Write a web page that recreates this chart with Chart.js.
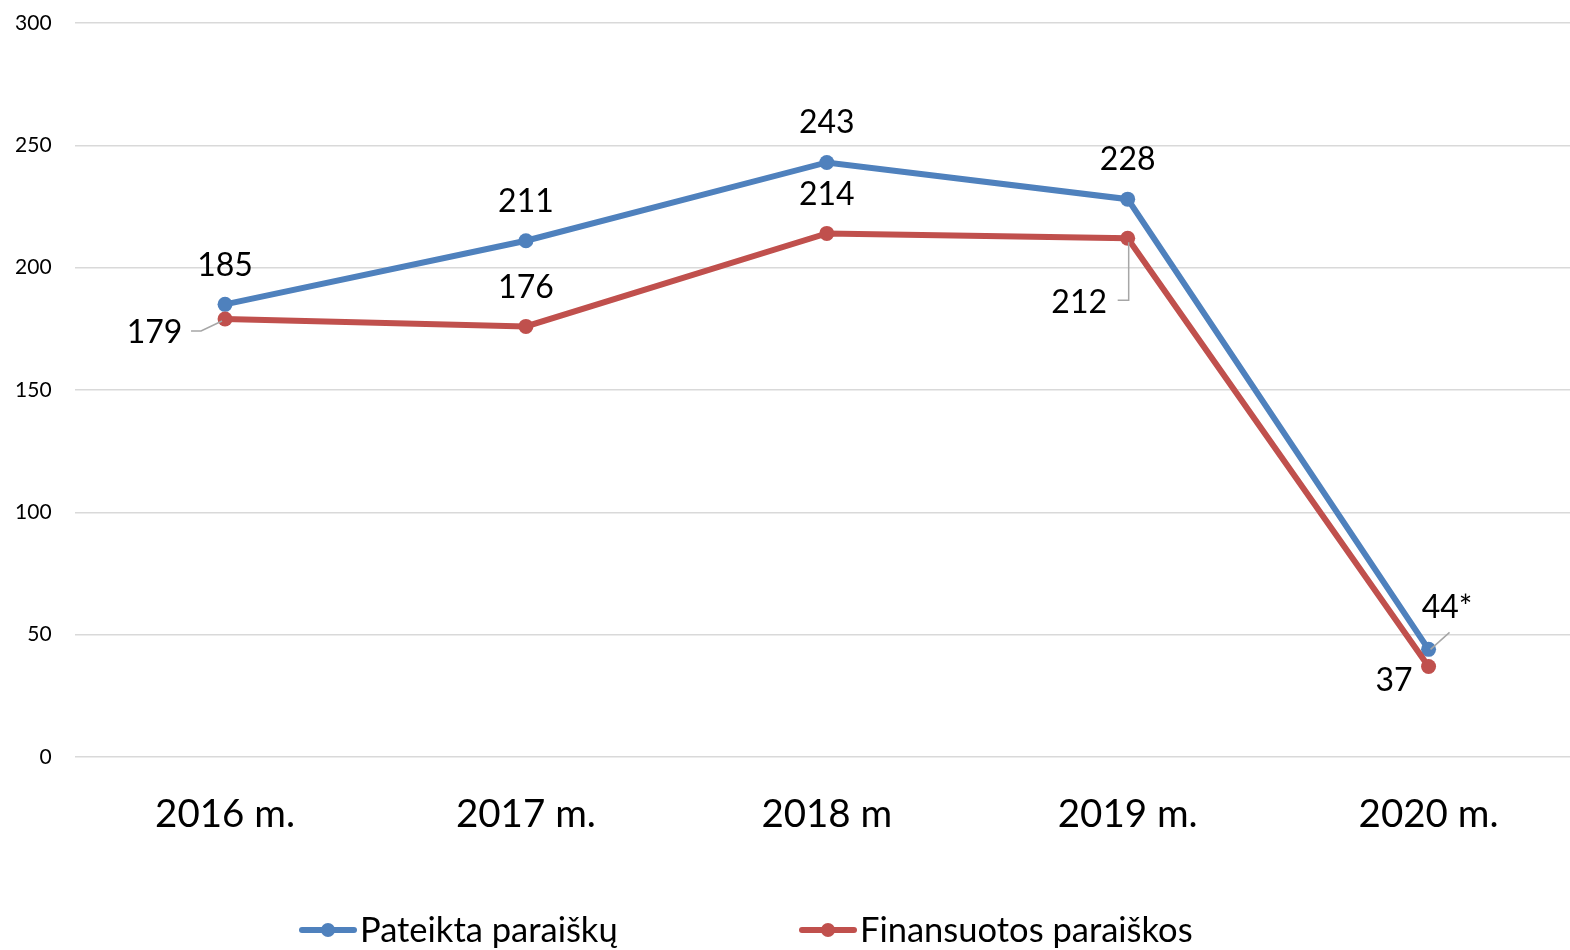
<!DOCTYPE html>
<html><head><meta charset="utf-8">
<script src="https://cdn.jsdelivr.net/npm/chart.js@4/dist/chart.umd.min.js"></script>
<style>html,body{margin:0;padding:0;background:#fff;overflow:hidden}#w{width:1579px;height:950px;position:relative}canvas{display:block}</style>
</head><body>
<div id="w"><canvas id="c" width="1579" height="950" style="width:1579px;height:950px"></canvas></div>
<script>
const categories = ['2016 m.', '2017 m.', '2018 m', '2019 m.', '2020 m.'];
const seriesNames = ['Pateikta paraiškų', 'Finansuotos paraiškos'];
const submitted = [185, 211, 243, 228, 44];
const funded = [179, 176, 214, 212, 37];
const submittedLabels = ['185', '211', '243', '228', '44*'];
const fundedLabels = ['179', '176', '214', '212', '37'];
const yMin = 0, yMax = 300, yStep = 50;

const BLUE = '#4F81BD', RED = '#C0504D';
const FONT = 'Lato, "Open Sans", sans-serif';

// label placement (style), relative to each point
const labelOffsets = [
  [[0,-39],[0,-39],[0,-40],[0,-39],[18.5,-42]],
  [[-70.5,14],[0,-39],[0,-39],[-48.5,64],[-34.5,14]]
];
const leaders = [
  [null,null,null,null,[[2,0],[21,-17]]],
  [[[-34,12],[-24,12],[-3,2]],null,null,[[-10,62],[1,62],[1,4]],null]
];

const labelPlugin = {
  id: 'labels',
  afterDatasetsDraw(chart) {
    const ctx = chart.ctx;
    const texts = [submittedLabels, fundedLabels];
    chart.data.datasets.forEach((ds, di) => {
      const meta = chart.getDatasetMeta(di);
      meta.data.forEach((pt, i) => {
        const ld = leaders[di][i];
        if (ld) {
          ctx.save();
          ctx.strokeStyle = '#a6a6a6'; ctx.lineWidth = 1.5;
          ctx.beginPath();
          ld.forEach((p, k) => { const x = pt.x + p[0], y = pt.y + p[1]; k ? ctx.lineTo(x, y) : ctx.moveTo(x, y); });
          ctx.stroke(); ctx.restore();
        }
        const o = labelOffsets[di][i];
        ctx.save();
        ctx.font = '32px ' + FONT; ctx.fillStyle = '#000';
        ctx.textAlign = 'center'; ctx.textBaseline = 'middle';
        ctx.fillText(texts[di][i], pt.x + o[0], pt.y + o[1]);
        ctx.restore();
      });
    });
  },
  afterDraw(chart) {
    const ctx = chart.ctx;
    const starts = [302, 802];
    const y = 930;
    chart.data.datasets.forEach((ds, di) => {
      const x0 = starts[di];
      ctx.save();
      ctx.strokeStyle = ds.borderColor; ctx.lineWidth = 6; ctx.lineCap = 'round';
      ctx.beginPath(); ctx.moveTo(x0, y); ctx.lineTo(x0 + 52, y); ctx.stroke();
      ctx.fillStyle = ds.borderColor;
      ctx.beginPath(); ctx.arc(x0 + 26, y, 7, 0, Math.PI * 2); ctx.fill();
      ctx.font = '34.5px ' + FONT; ctx.fillStyle = '#000';
      ctx.textAlign = 'left'; ctx.textBaseline = 'middle';
      ctx.fillText(ds.label, x0 + 58, y + 1);
      ctx.restore();
    });
  }
};

new Chart(document.getElementById('c'), {
  type: 'line',
  data: {
    labels: categories,
    datasets: [
      { label: seriesNames[0], data: submitted, borderColor: BLUE, backgroundColor: BLUE,
        borderWidth: 6, pointRadius: 7.5, pointBackgroundColor: BLUE, pointBorderWidth: 0, order: 1, tension: 0 },
      { label: seriesNames[1], data: funded, borderColor: RED, backgroundColor: RED,
        borderWidth: 6, pointRadius: 7.5, pointBackgroundColor: RED, pointBorderWidth: 0, order: 0, tension: 0 }
    ]
  },
  options: {
    responsive: false, animation: false,
    layout: { autoPadding: false, padding: { top: 23, right: 0, bottom: 0, left: 0 } },
    plugins: { legend: { display: false }, tooltip: { enabled: false } },
    scales: {
      x: {
        offset: true,
        grid: { display: false, drawTicks: false },
        border: { display: false },
        ticks: { color: '#000', font: { family: FONT, size: 38.5 }, padding: 34, maxRotation: 0 },
        afterFit(s) { s.height = 193; }
      },
      y: {
        min: yMin, max: yMax,
        grid: { color: '#d9d9d9', lineWidth: 1.5, drawTicks: true, tickLength: 23, tickColor: 'rgba(0,0,0,0)' },
        border: { display: false },
        ticks: { stepSize: yStep, color: '#000', font: { family: FONT, size: 21 }, padding: 0 },
        afterFit(s) { s.width = 74.6; }
      }
    }
  },
  plugins: [labelPlugin]
});
</script>
</body></html>
